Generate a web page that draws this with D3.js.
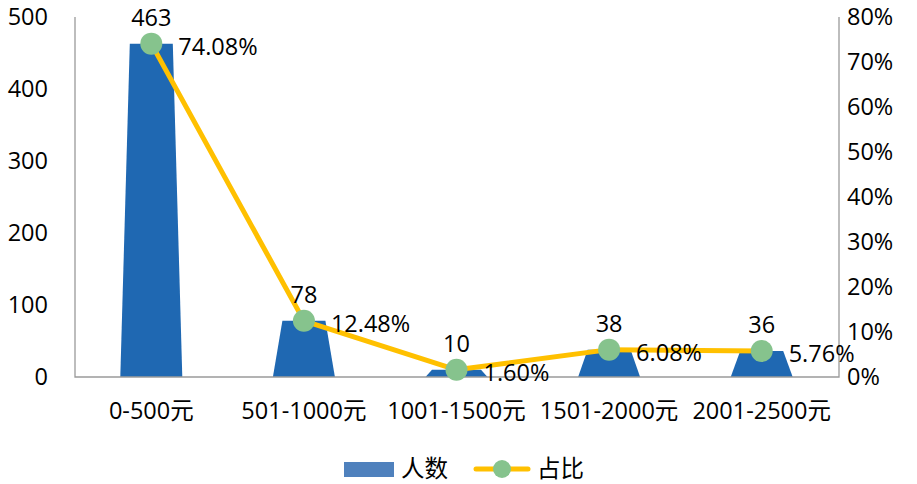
<!DOCTYPE html>
<html><head><meta charset="utf-8">
<script src="https://cdn.jsdelivr.net/npm/d3@7"></script>
<style>body{margin:0;background:#fff}svg{display:block}text{font-family:"Open Sans","Noto Sans CJK SC",sans-serif;fill:#000}</style>
</head><body>
<svg id="c" width="917" height="484"></svg>
<script>
const categories = ["0-500元","501-1000元","1001-1500元","1501-2000元","2001-2500元"];
const counts = [463, 78, 10, 38, 36];
const shares = [0.7408, 0.1248, 0.016, 0.0608, 0.0576];
const shareLabels = ["74.08%","12.48%","1.60%","6.08%","5.76%"];
const leftTicks = [0,100,200,300,400,500];
const rightTicks = [0,0.1,0.2,0.3,0.4,0.5,0.6,0.7,0.8];
const legendLabels = ["人数","占比"];

const svg = d3.select("#c");
const L = 75, R = 838, T = 17, B = 377;
const fs = 23.5;
const x = d3.scaleBand().domain(categories).range([L, R]);
const yL = d3.scaleLinear().domain([0, 500]).range([B, T]);
const yR = d3.scaleLinear().domain([0, 0.8]).range([B, T]);

// left tick labels
svg.append("g").selectAll("text").data(leftTicks).join("text")
  .attr("x", 48).attr("y", d => yL(d)).attr("dy", "0.35em")
  .attr("text-anchor", "end").style("font-size", fs + "px").text(d => d);
// right tick labels
svg.append("g").selectAll("text").data(rightTicks).join("text")
  .attr("x", 847).attr("y", d => yR(d)).attr("dy", "0.35em")
  .attr("text-anchor", "start").style("font-size", fs + "px").text(d => Math.round(d * 100) + "%");

// bars (trapezoids)
const bw = 62;
svg.append("g").selectAll("path").data(counts).join("path")
  .attr("fill", "#1F68B2")
  .attr("d", (d, i) => {
    const cx = x(categories[i]) + x.bandwidth() / 2;
    const top = yL(d), h = B - top;
    const inset = Math.min(9.5, h * 0.9);
    return `M${cx - bw/2},${B} L${cx - bw/2 + inset},${top} L${cx + bw/2 - inset},${top} L${cx + bw/2},${B} Z`;
  });

// axes lines
svg.append("path").attr("d", `M${L},${T} V${B} H${R+1} V${T}`)
  .attr("fill", "none").attr("stroke", "#9a9a9a").attr("stroke-width", 1.3);

// line
const line = d3.line().x((d, i) => x(categories[i]) + x.bandwidth() / 2).y(d => yR(d));
svg.append("path").datum(shares).attr("d", line)
  .attr("fill", "none").attr("stroke", "#FFC000").attr("stroke-width", 5).attr("stroke-linejoin", "round");
svg.append("g").selectAll("circle").data(shares).join("circle")
  .attr("cx", (d, i) => x(categories[i]) + x.bandwidth() / 2).attr("cy", d => yR(d))
  .attr("r", 11).attr("fill", "#86C38D");

// count labels
svg.append("g").selectAll("text").data(counts).join("text")
  .attr("x", (d, i) => x(categories[i]) + x.bandwidth() / 2).attr("y", d => yL(d) - 18)
  .attr("text-anchor", "middle").style("font-size", fs + "px").text(d => d);
// share labels
svg.append("g").selectAll("text").data(shares).join("text")
  .attr("x", (d, i) => x(categories[i]) + x.bandwidth() / 2 + 27).attr("y", d => yR(d) + 3)
  .attr("dy", "0.35em").attr("text-anchor", "start").style("font-size", fs + "px")
  .text((d, i) => shareLabels[i]);

// category labels
svg.append("g").selectAll("text").data(categories).join("text")
  .attr("x", d => x(d) + x.bandwidth() / 2).attr("y", 411).attr("dy", "0.35em")
  .attr("text-anchor", "middle").style("font-size", fs + "px").text(d => d);

// legend
const lg = svg.append("g");
lg.append("rect").attr("x", 344).attr("y", 462).attr("width", 50).attr("height", 15).attr("fill", "#4F81BD");
lg.append("text").attr("x", 401).attr("y", 469).attr("dy", "0.35em").style("font-size", fs + "px").text(legendLabels[0]);
lg.append("line").attr("x1", 476).attr("x2", 528).attr("y1", 469).attr("y2", 469)
  .attr("stroke", "#FFC000").attr("stroke-width", 5).attr("stroke-linecap", "round");
lg.append("circle").attr("cx", 502).attr("cy", 469).attr("r", 9).attr("fill", "#86C38D");
lg.append("text").attr("x", 537).attr("y", 469).attr("dy", "0.35em").style("font-size", fs + "px").text(legendLabels[1]);
</script>
</body></html>
